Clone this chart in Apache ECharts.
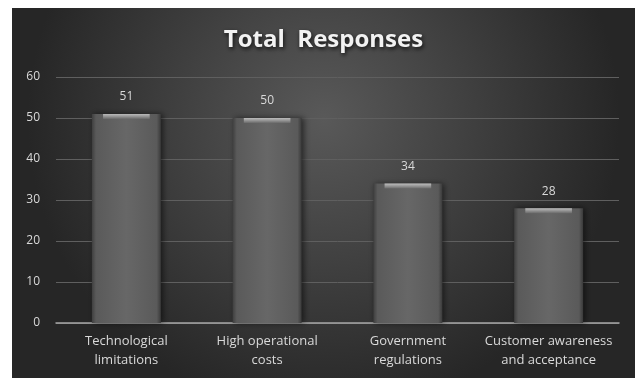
<!DOCTYPE html>
<html>
<head>
<meta charset="utf-8">
<script src="https://cdn.jsdelivr.net/npm/echarts@6/dist/echarts.min.js"></script>
<style>
  html, body { margin: 0; padding: 0; background: #ffffff; }
  #chart { position: absolute; left: 12px; top: 8px; width: 623px; height: 370px; }
</style>
</head>
<body>
<div id="chart"></div>
<script>
// Survey totals per barrier
const categories = [
  'Technological\nlimitations',
  'High operational\ncosts',
  'Government\nregulations',
  'Customer awareness\nand acceptance'
];
const responses = [51, 50, 34, 28];
const yTicks = { min: 0, max: 60, interval: 10 };

const chart = echarts.init(document.getElementById('chart'));

const barFill = new echarts.graphic.LinearGradient(0, 0, 1, 0, [
  { offset: 0, color: '#3f3f3f' },
  { offset: 0.06, color: '#5a5a5a' },
  { offset: 0.5, color: '#676767' },
  { offset: 0.94, color: '#5a5a5a' },
  { offset: 1, color: '#3a3a3a' }
]);

const capFill = new echarts.graphic.LinearGradient(0, 0, 0, 1, [
  { offset: 0, color: '#bcbcbc' },
  { offset: 0.5, color: '#959595' },
  { offset: 1, color: '#6a6a6a' }
]);

chart.setOption({
  backgroundColor: new echarts.graphic.RadialGradient(0.5, 0.3, 0.8, [
    { offset: 0, color: '#595959' },
    { offset: 1, color: '#262626' }
  ]),
  title: {
    text: 'Total  Responses',
    left: 'center',
    top: 15,
    textStyle: {
      color: '#f2f2f2',
      fontFamily: 'Open Sans',
      fontWeight: 'bold',
      fontSize: 24,
      textShadowColor: 'rgba(0,0,0,0.8)',
      textShadowBlur: 4,
      textShadowOffsetX: 1,
      textShadowOffsetY: 2
    }
  },
  grid: { left: 44, right: 16, top: 69, bottom: 55 },
  xAxis: {
    type: 'category',
    data: categories,
    axisLine: { lineStyle: { color: '#a6a6a6', width: 1.5 } },
    axisTick: { show: false },
    axisLabel: {
      interval: 0,
      color: '#d9d9d9',
      fontFamily: 'Open Sans',
      fontSize: 13,
      lineHeight: 19,
      margin: 9
    }
  },
  yAxis: {
    type: 'value',
    min: yTicks.min,
    max: yTicks.max,
    interval: yTicks.interval,
    axisLine: { show: false },
    axisTick: { show: false },
    splitLine: { lineStyle: { color: '#5f5f5f', width: 1 } },
    axisLabel: {
      color: '#d9d9d9',
      fontFamily: 'Open Sans',
      fontSize: 12,
      margin: 16
    }
  },
  series: [
    {
      type: 'bar',
      data: responses,
      barWidth: '49%',
      itemStyle: {
        color: barFill,
        shadowColor: 'rgba(0,0,0,0.55)',
        shadowBlur: 6,
        shadowOffsetX: 2
      },
      label: {
        show: true,
        position: 'top',
        distance: 11,
        color: '#d9d9d9',
        fontFamily: 'Open Sans',
        fontSize: 12
      },
      z: 2
    },
    {
      type: 'pictorialBar',
      data: responses,
      symbol: 'rect',
      symbolPosition: 'end',
      symbolSize: ['48%', 5],
      symbolOffset: [0, 0],
      itemStyle: { color: capFill },
      silent: true,
      z: 3
    }
  ]
});
</script>
</body>
</html>
